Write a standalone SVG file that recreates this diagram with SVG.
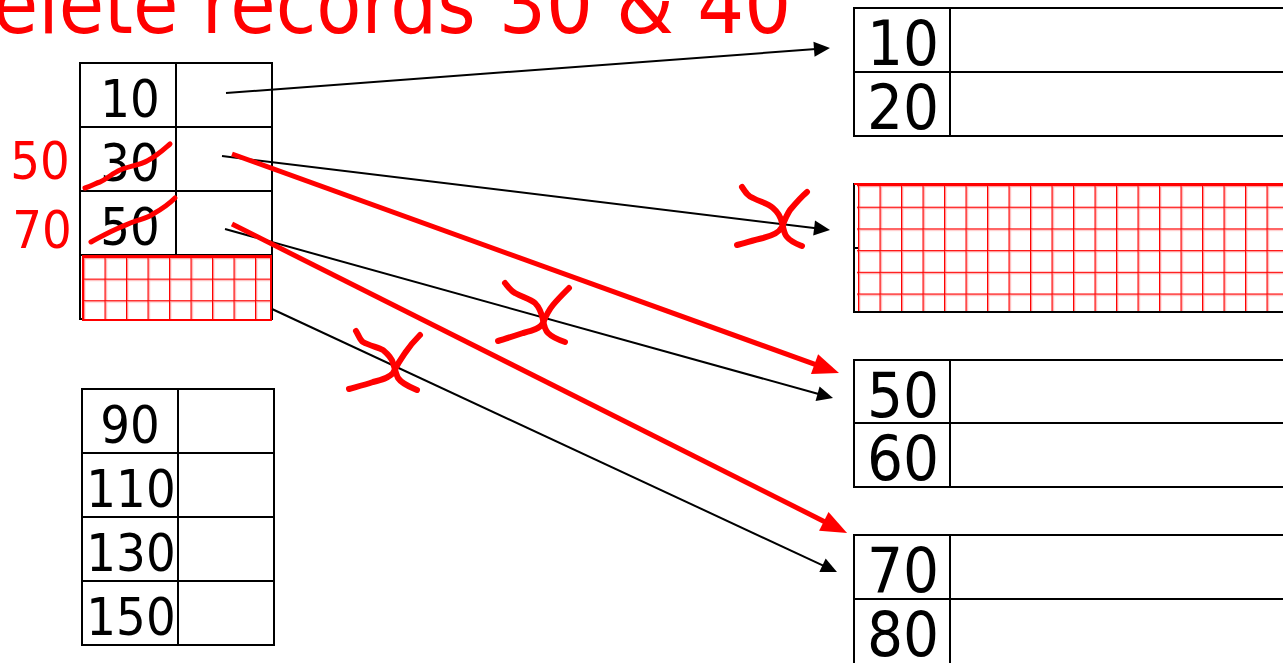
<svg xmlns="http://www.w3.org/2000/svg" width="1283" height="663" viewBox="0 0 1283 663">
<style>
text{font-family:"DejaVu Sans Condensed","DejaVu Sans",sans-serif;font-stretch:condensed}
.cell{fill:#fff;stroke:#000;stroke-width:2}
.ln{stroke:#000;stroke-width:2}
.k{font-size:52px;fill:#000;text-anchor:middle}
.kb{font-size:63px;fill:#000;text-anchor:middle}
.rl{font-size:52px;fill:#f00;text-anchor:middle}
.title{font-size:82px;fill:#f00}
.ptr{fill:none;stroke:#000;stroke-width:2}
.rptr{fill:none;stroke:#f00;stroke-width:5}
.mark{fill:none;stroke:#f00;stroke-width:6;stroke-linecap:round;stroke-linejoin:round}
.strike{fill:none;stroke:#f00;stroke-width:5;stroke-linecap:round;stroke-linejoin:round}
.gridbox{stroke:#f00;stroke-width:2}
</style>
<defs>
<marker id="ah" markerUnits="userSpaceOnUse" markerWidth="16" markerHeight="15" refX="2" refY="7.5" orient="auto" overflow="visible">
<path d="M0,0 L16,7.5 L0,15 Z" fill="#000"/>
</marker>
<marker id="rah" markerUnits="userSpaceOnUse" markerWidth="26" markerHeight="21" refX="2" refY="10.5" orient="auto" overflow="visible">
<path d="M0,0 L26,10.5 L0,21 Z" fill="#f00"/>
</marker>
<pattern id="gridL" patternUnits="userSpaceOnUse" x="83" y="257" width="21.5" height="21.6">
<rect width="21.5" height="21.6" fill="#fff"/>
<path d="M0,0 V21.6 M0,0 H21.5" stroke="#f00" stroke-opacity="0.35" stroke-width="4.5"/>
<path d="M0,0 V21.6 M0,0 H21.5" stroke="#f00" stroke-width="2.2"/>
</pattern>
<pattern id="gridR" patternUnits="userSpaceOnUse" x="858" y="185" width="21.5" height="21.7">
<rect width="21.5" height="21.7" fill="#fff"/>
<path d="M0,0 V21.7 M0,0 H21.5" stroke="#f00" stroke-opacity="0.35" stroke-width="4.5"/>
<path d="M0,0 V21.7 M0,0 H21.5" stroke="#f00" stroke-width="2.2"/>
</pattern>
</defs>
<rect width="1283" height="663" fill="#fff"/>

<text class="title" x="-64" y="33">Delete records 30 &amp; 40</text>

<g id="index1">
<rect class="cell" x="80" y="63" width="192" height="256"/>
<line class="ln" x1="176" y1="63" x2="176" y2="255"/>
<line class="ln" x1="80" y1="127" x2="272" y2="127"/>
<line class="ln" x1="80" y1="191" x2="272" y2="191"/>
<line class="ln" x1="80" y1="255" x2="272" y2="255"/>
<text class="k" x="130" y="117">10</text>
<text class="k" x="130" y="181">30</text>
<text class="k" x="130" y="245">50</text>
<rect x="83" y="256" width="188" height="64" fill="url(#gridL)" class="gridbox"/>
</g>

<g id="index2">
<rect class="cell" x="82" y="389" width="192" height="256"/>
<line class="ln" x1="178" y1="389" x2="178" y2="645"/>
<line class="ln" x1="82" y1="453" x2="274" y2="453"/>
<line class="ln" x1="82" y1="517" x2="274" y2="517"/>
<line class="ln" x1="82" y1="581" x2="274" y2="581"/>
<text class="k" x="130" y="443">90</text>
<text class="k" x="131" y="507">110</text>
<text class="k" x="131" y="571">130</text>
<text class="k" x="131" y="635">150</text>
</g>

<g id="newkeys">
<text class="rl" x="40" y="179">50</text>
<text class="rl" x="42" y="248">70</text>
</g>

<g id="block1">
<rect class="cell" x="854" y="8" width="440" height="128"/>
<line class="ln" x1="950" y1="8" x2="950" y2="136"/>
<line class="ln" x1="854" y1="72" x2="1290" y2="72"/>
<text class="kb" x="903" y="65">10</text>
<text class="kb" x="903" y="129">20</text>
</g>

<g id="block2">
<rect class="cell" x="854" y="184" width="440" height="128"/>
<rect x="857" y="185" width="430" height="126" fill="url(#gridR)"/>
<line x1="854" y1="184" x2="1290" y2="184" stroke="#f00" stroke-width="2"/>
<line class="ln" x1="854" y1="248" x2="858" y2="248"/>
</g>

<g id="block3">
<rect class="cell" x="854" y="360" width="440" height="127"/>
<line class="ln" x1="950" y1="360" x2="950" y2="487"/>
<line class="ln" x1="854" y1="423" x2="1290" y2="423"/>
<text class="kb" x="903" y="417">50</text>
<text class="kb" x="903" y="480">60</text>
</g>

<g id="block4">
<rect class="cell" x="854" y="535" width="440" height="140"/>
<line class="ln" x1="950" y1="535" x2="950" y2="675"/>
<line class="ln" x1="854" y1="599" x2="1290" y2="599"/>
<text class="kb" x="903" y="592">70</text>
<text class="kb" x="903" y="656">80</text>
</g>

<g id="connectors">
<path class="ptr" d="M226,93 L816,49" marker-end="url(#ah)"/>
<path class="ptr" d="M222,156 L816.1,228.3" marker-end="url(#ah)"/>
<path class="ptr" d="M225,229 L819.5,394.3" marker-end="url(#ah)"/>
<path class="ptr" d="M272,309 L824.3,566.1" marker-end="url(#ah)"/>
<path class="rptr" d="M232,154 L816.4,364.9" marker-end="url(#rah)"/>
<path class="rptr" d="M232,224 L825.6,522.2" marker-end="url(#rah)"/>
</g>

<g id="annotations">
<path class="strike" d="M85,188 C92,186 96,183 100,182 C108,178 113,173 120,170 C130,166 140,165 147,161 C157,156 163,150 170,144"/>
<path class="strike" d="M91,242 C98,238 104,235 110,232 C118,228 126,225 133,222 C141,219 148,218 153,214 C162,209 169,204 175,198"/>
<path class="mark" d="M742,187 C746,193 748,196 753,198 C760,202 768,203 773,208 C779,213 781,218 782,223 C784,230 784,234 787,237 C791,242 797,244 802,246"/>
<path class="mark" d="M807,192 C800,198 795,204 790,210 C786,216 784,222 782,227 C779,233 771,236 763,238 C754,240 745,243 737,245"/>
<path class="mark" d="M505,283 C509,288 511,291 515,293 C522,297 530,299 535,303 C540,308 542,315 543,320 C544,326 545,330 548,333 C553,338 559,340 565,342"/>
<path class="mark" d="M569,288 C563,294 557,300 553,305 C548,311 545,318 543,323 C540,329 531,331 523,333 C514,336 505,339 498,341"/>
<path class="mark" d="M356,331 C359,336 360,340 363,342 C370,346 378,347 383,350 C389,355 392,359 393,363 C395,369 396,374 398,378 C402,384 410,387 417,390"/>
<path class="mark" d="M420,335 C414,341 409,347 405,353 C400,360 396,367 393,373 C389,378 381,380 373,382 C364,385 356,387 349,389"/>
</g>
</svg>
